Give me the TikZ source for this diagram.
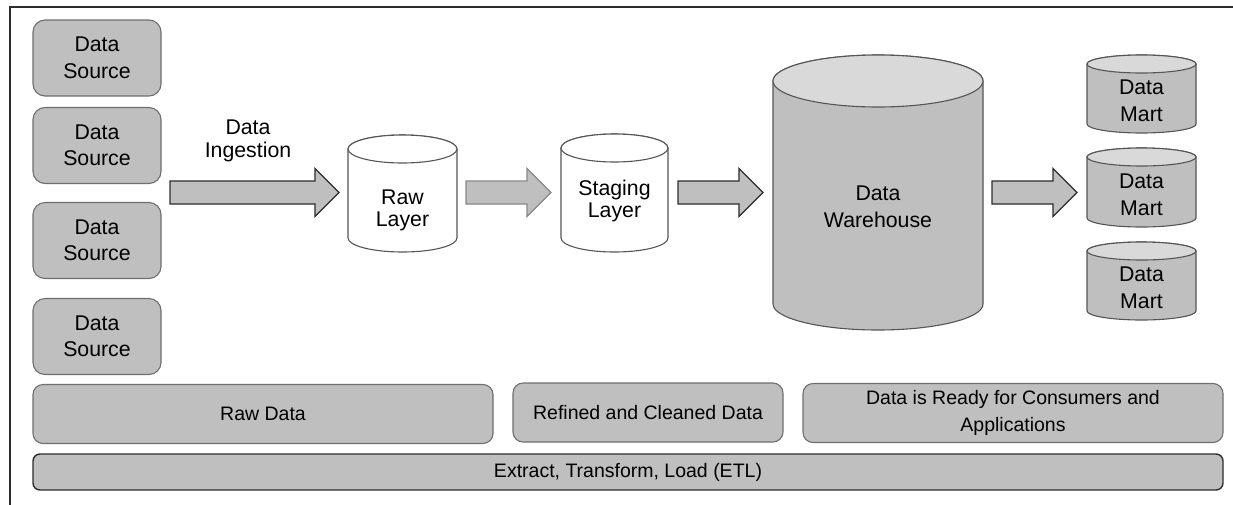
\documentclass[tikz,border=0pt]{standalone}
\usepackage{fontspec}
\setmainfont{Liberation Sans}

\definecolor{panel}{RGB}{191,191,192}
\definecolor{lid}{RGB}{217,217,218}
\definecolor{edge}{RGB}{110,110,110}
\definecolor{cyledge}{RGB}{85,85,85}
\definecolor{ink}{RGB}{45,45,45}

% cylinder: #1 body fill, #2 lid fill, #3 left x, #4 right x, #5 top y, #6 bottom y, #7 lid half-height
\newcommand\dbcylinder[7]{%
  \pgfmathsetmacro\cylrx{(#4-#3)/2}%
  \pgfmathsetmacro\cylcx{(#4+#3)/2}%
  \filldraw[cylline, fill=#1] (#3,-#5-#7) -- (#3,-#6+#7)
    arc[start angle=180, end angle=360, x radius=\cylrx, y radius=#7]
    -- (#4,-#5-#7)
    arc[start angle=0, end angle=180, x radius=\cylrx, y radius=#7] -- cycle;
  \filldraw[cylline, fill=#2] (\cylcx,-#5-#7) ellipse[x radius=\cylrx, y radius=#7];
}

\tikzset{
  every node/.style={text=black, inner sep=0pt, align=center},
  txt/.style={font=\fontsize{21.3}{#1}\selectfont},
  txt/.default=26.5,
  bandtxt/.style={font=\fontsize{19.5}{#1}\selectfont},
  bandtxt/.default=26.5,
  cylline/.style={draw=cyledge, line width=1.1pt},
  srcbox/.style={draw=edge, fill=panel, line width=1.1pt, rounded corners=12pt,
    minimum width=128pt, minimum height=76pt, txt},
  bandbox/.style={draw=edge, fill=panel, line width=1.1pt, rounded corners=10pt,
    minimum height=59pt},
  etlbox/.style={draw=ink, fill=panel, line width=1.4pt, rounded corners=7pt,
    minimum width=1190pt, minimum height=36pt, bandtxt},
  darkarrow/.style={draw=ink, fill=panel, line width=1.2pt, line join=miter},
  lightarrow/.style={draw=cyledge!70, fill=panel, line width=1.1pt, line join=miter},
  blockarrow/.pic={
    \path[pic actions] (0,11.5) -- (#1-24,11.5) -- (#1-24,24) -- (#1,0)
      -- (#1-24,-24) -- (#1-24,-11.5) -- (0,-11.5) -- cycle;
  },
}

\begin{document}
\begin{tikzpicture}[x=1pt, y=1pt]
\useasboundingbox (0,0) rectangle (1233,-504);

% outer frame (open to the right and bottom)
\draw[ink, line width=1.4pt] (10,-510) -- (10,-7) -- (1240,-7);

% sources
\node[srcbox] (ds1) at (97,-58)    {Data\\Source};
\node[srcbox] (ds2) at (97,-145.5) {Data\\Source};
\node[srcbox] (ds3) at (97,-240.5) {Data\\Source};
\node[srcbox] (ds4) at (97,-336.5) {Data\\Source};

\node[txt=23.5] (ingest) at (248,-141) {Data\\Ingestion};

% storage layers
\dbcylinder{white}{white}{348}{457}{135}{252}{14}
\node[txt=22] (rawlayer) at (402.5,-210) {Raw\\Layer};

\dbcylinder{white}{white}{561}{668}{134}{252}{14}
\node[txt=22.5] (staging) at (614.5,-201) {Staging\\Layer};

\dbcylinder{panel}{lid}{773}{983}{55}{330}{26}
\node[txt=26.5] (dwh) at (878,-207) {Data\\Warehouse};

\dbcylinder{panel}{lid}{1087}{1196}{55}{133}{9}
\node[txt=27] (dm1) at (1141.5,-101) {Data\\Mart};
\dbcylinder{panel}{lid}{1087}{1196}{148}{227}{9}
\node[txt=27] (dm2) at (1141.5,-195) {Data\\Mart};
\dbcylinder{panel}{lid}{1087}{1196}{242}{320}{9}
\node[txt=27] (dm3) at (1141.5,-288) {Data\\Mart};

% flow arrows
\pic[darkarrow]  at (170,-192.5) {blockarrow=169};
\pic[lightarrow] at (466,-192.5) {blockarrow=85};
\pic[darkarrow]  at (678,-192.5) {blockarrow=85};
\pic[darkarrow]  at (992,-192.5) {blockarrow=85};

% stage bands
\node[bandbox, minimum width=460pt, bandtxt] (rawdata) at (263,-414) {Raw Data};
\node[bandbox, minimum width=270pt, bandtxt] (refined) at (648,-412.5) {Refined and Cleaned Data};
\node[bandbox, minimum width=420pt, bandtxt] (ready) at (1013,-413) {Data is Ready for Consumers and\\Applications};

\node[etlbox] (etl) at (628,-472) {Extract, Transform, Load (ETL)};
\end{tikzpicture}
\end{document}
